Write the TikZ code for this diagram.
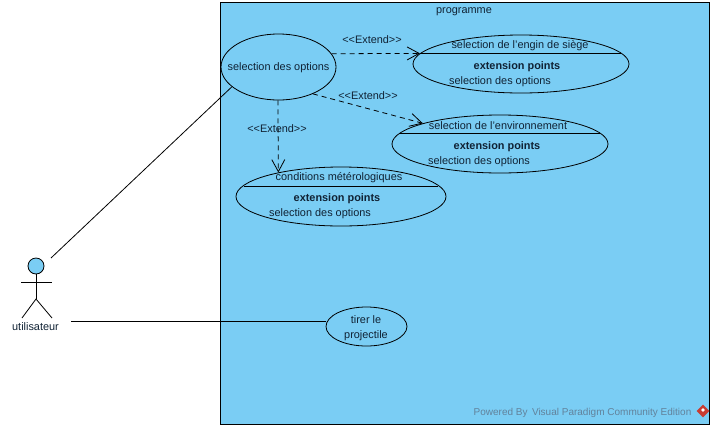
\documentclass[tikz,border=0pt]{standalone}
\usepackage{fontspec}
\setmainfont{Liberation Sans}
\usetikzlibrary{arrows.meta,shapes.geometric}

\definecolor{paneblue}{RGB}{122,205,244}
\definecolor{inkblue}{RGB}{16,34,52}
\definecolor{markgray}{RGB}{98,130,155}
\definecolor{markred}{RGB}{200,60,50}

\tikzset{
  usecase/.style={draw, ellipse, inner sep=0pt},
  label/.style={text=inkblue, inner sep=0pt, font=\fontsize{10.9}{12}\selectfont},
  point/.style={label, font=\fontsize{10.9}{12}\selectfont\bfseries},
  extend/.style={dashed, dash pattern=on 5pt off 4pt, -{Straight Barb[length=12pt,width=13pt]}}
}

\begin{document}
\begin{tikzpicture}[x=1pt, y=-1pt, line width=0.8pt]
\useasboundingbox (0,0) rectangle (714,429);

% system pane
\draw[fill=paneblue] (220.5,2) rectangle (709.5,424);
\node[label] (programme) at (464,11.5) {programme};

% use cases
\node[usecase, minimum width=115pt, minimum height=66pt] (options) at (278.5,67) {};
\node[usecase, minimum width=216pt, minimum height=58pt] (engin) at (521,64) {};
\node[usecase, minimum width=216pt, minimum height=58pt] (environ) at (500,144) {};
\node[usecase, minimum width=210pt, minimum height=59pt] (meteo) at (341,196.5) {};
\node[usecase, minimum width=81pt, minimum height=39pt] (tirer) at (366.5,326.5) {};
\node[label] (optionsT) at (278.5,68) {selection des options};

% compartments
\draw (421,53) -- (621,53);
\draw (400,133) -- (600,133);
\draw (244,186) -- (438,186);

% texts of engin
\node[label] (enginT) at (520,45.5) {selection de l{\char39}engin de siège};
\node[point] (enginE) at (517,66.5) {extension points};
\node[label] (enginS) at (500,81.5) {selection des options};

% texts of environ
\node[label] (environT) at (498,125.5) {selection de l{\char39}environnement};
\node[point] (environE) at (497,146.5) {extension points};
\node[label] (environS) at (479,161.5) {selection des options};

% texts of meteo
\node[label] (meteoT) at (339,178) {conditions métérologiques};
\node[point] (meteoE) at (337,198.5) {extension points};
\node[label] (meteoS) at (320,213.5) {selection des options};

% texts of tirer
\node[label] (tirerA) at (366,320) {tirer le};
\node[label] (tirerB) at (366,335.5) {projectile};

% actor
\node[draw, circle, fill=paneblue, minimum size=16pt, inner sep=0pt] (head) at (36,266) {};
\coordinate (hip) at (36,299);
\draw (head) -- (hip);
\draw (21,282) -- (52,282);
\draw (22,318) -- (hip) -- (52,318);
\node[label] (actor) at (35.5,326.5) {utilisateur};

% associations
\coordinate (actorA) at (51,258);
\coordinate (actorB) at (71,321);
\draw (actorA) -- (options.203);
\draw (actorB) -- (tirer.west |- actorB);

% extend relations
\draw[extend] (options.14.5) -- (engin.174.6);
\draw[extend] (options.-38) -- (environ.165);
\draw[extend] (options.-91) -- (meteo.159.5);
\node[label] (extendA) at (372,39.5) {<{}<Extend>{}>};
\node[label] (extendB) at (368,95.5) {<{}<Extend>{}>};
\node[label] (extendC) at (277,128.5) {<{}<Extend>{}>};

% watermark
\node[label, text=markgray, font=\fontsize{10}{12}\selectfont] (mark) at (582.5,413) {Powered By\, Visual Paradigm Community Edition};
\node[diamond, fill=markred, minimum size=13pt, inner sep=0pt] (logo) at (703,411) {};
\node[diamond, fill=white, minimum size=4pt, inner sep=0pt] (logoC) at (703,410) {};
\end{tikzpicture}
\end{document}
